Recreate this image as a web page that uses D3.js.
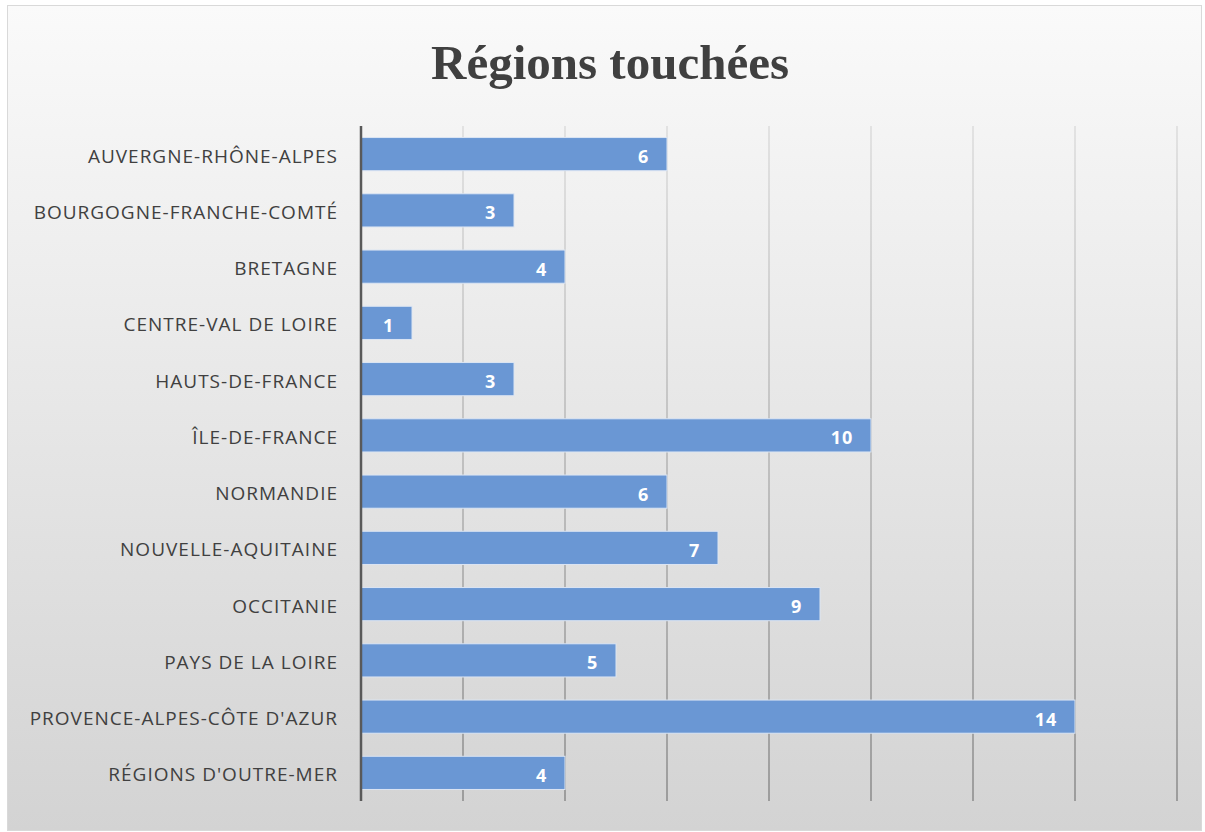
<!DOCTYPE html>
<html>
<head>
<meta charset="utf-8">
<script src="https://cdn.jsdelivr.net/npm/d3@7"></script>
<style>
  body { margin: 0; background: #ffffff; }
</style>
</head>
<body>
<div id="chart"></div>
<script>
// data
const regions = [
  "AUVERGNE-RHÔNE-ALPES",
  "BOURGOGNE-FRANCHE-COMTÉ",
  "BRETAGNE",
  "CENTRE-VAL DE LOIRE",
  "HAUTS-DE-FRANCE",
  "ÎLE-DE-FRANCE",
  "NORMANDIE",
  "NOUVELLE-AQUITAINE",
  "OCCITANIE",
  "PAYS DE LA LOIRE",
  "PROVENCE-ALPES-CÔTE D'AZUR",
  "RÉGIONS D'OUTRE-MER"
]
const counts = [6, 3, 4, 1, 3, 10, 6, 7, 9, 5, 14, 4]
const xTicks = [0, 2, 4, 6, 8, 10, 12, 14, 16]
const titleText = "Régions touchées"

const W = 1205, H = 832
const svg = d3.select('#chart').append('svg')
  .attr("width", W).attr("height", H)

const defs = svg.append("defs")
const bgGrad = defs.append("linearGradient").attr("id", "bg")
  .attr("x1", 0).attr("y1", 0).attr("x2", 0).attr("y2", 1)
bgGrad.append("stop").attr("offset", "0%").attr("stop-color", "#fafafa")
bgGrad.append("stop").attr("offset", "100%").attr("stop-color", "#d3d3d3")

const gridGrad = defs.append("linearGradient").attr("id", "grid")
  .attr("gradientUnits", "userSpaceOnUse")
  .attr("x1", 0).attr("y1", 126).attr("x2", 0).attr("y2", 801)
gridGrad.append("stop").attr("offset", "0%").attr("stop-color", "#dcdcdc")
gridGrad.append("stop").attr("offset", "100%").attr("stop-color", "#8a8a8a")

// background panel
svg.append("rect")
  .attr("x", 7.5).attr("y", 5.5).attr("width", 1194).attr("height", 825)
  .attr("fill", "url(#bg)")
  .attr("stroke", "#d9d9d9")

// title
svg.append("text")
  .attr("x", 610).attr("y", 79)
  .attr("text-anchor", "middle")
  .attr("font-family", "'Liberation Serif', serif")
  .attr("font-weight", "bold")
  .attr("font-size", 49)
  .attr("fill", "#404040")
  .text(titleText)

// scales
const x = d3.scaleLinear().domain([0, 16]).range([361, 1177])
const y = d3.scaleBand().domain(regions).range([126, 801]).paddingInner(0.41).paddingOuter(0.205)

// gridlines
svg.append("g")
  .selectAll("line")
  .data(xTicks.slice(1))
  .enter()
  .append("line")
  .attr("x1", d => x(d)).attr("x2", d => x(d))
  .attr("y1", 126).attr("y2", 801)
  .attr("stroke", "url(#grid)")
  .attr("stroke-width", 1.5)

// bars
svg.append("g")
  .selectAll("rect")
  .data(counts)
  .enter()
  .append("rect")
  .attr("x", x(0))
  .attr("y", (d, i) => y(regions[i]))
  .attr("width", d => x(d) - x(0))
  .attr("height", y.bandwidth())
  .attr("fill", "#6a97d4")
  .attr("stroke", "#dbe5f3")
  .attr("stroke-width", 1)

// value labels
svg.append("g")
  .selectAll("text")
  .data(counts)
  .enter()
  .append("text")
  .attr("x", d => x(d) - 18)
  .attr("y", (d, i) => y(regions[i]) + y.bandwidth() / 2 + 2.5)
  .attr("dy", "0.36em")
  .attr("text-anchor", "end")
  .attr("font-family", "'Open Sans', sans-serif")
  .attr("font-weight", "bold")
  .attr("font-size", 18)
  .attr("letter-spacing", "0.8px")
  .attr("fill", "#ffffff")
  .text(d => d)

// category axis
const yAxis = svg.append("g")
  .attr("transform", "translate(" + (x(0) + 1) + ",2.5)")
  .call(d3.axisLeft(y).tickSize(0).tickPadding(24))
yAxis.select(".domain").remove()
yAxis.selectAll("text")
  .attr("font-family", "'Open Sans', sans-serif")
  .attr("font-size", 19)
  .attr("letter-spacing", "1px")
  .attr("fill", "#404040")

svg.append("line")
  .attr("x1", x(0)).attr("x2", x(0))
  .attr("y1", 126).attr("y2", 801)
  .attr("stroke", "#595959")
  .attr("stroke-width", 2.5)
</script>
</body>
</html>
